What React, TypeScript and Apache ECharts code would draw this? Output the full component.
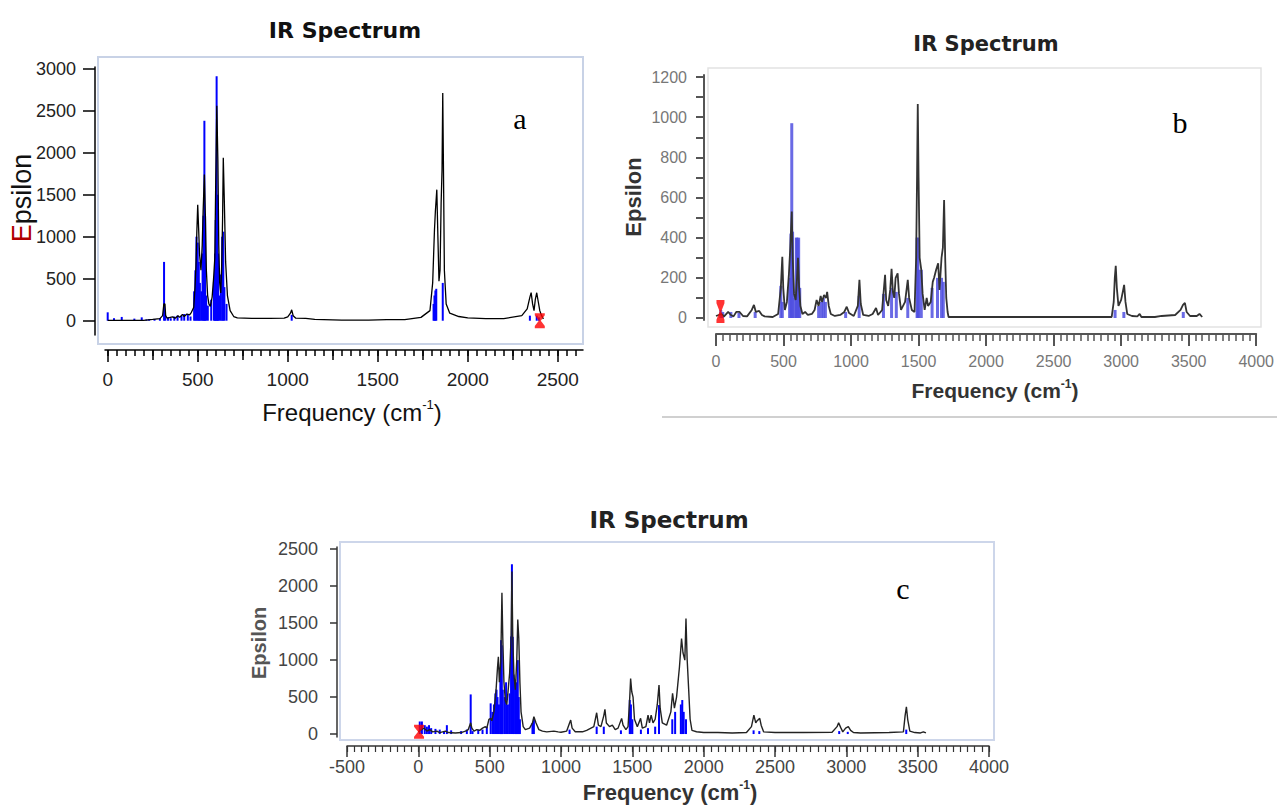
import React, { useEffect, useRef } from "react";
import * as echarts from "echarts";

// ---------- data: chart a ----------
const A_CURVE: [number, number][] = [
  [0, 5], [200, 5], [250, 15], [290, 25], [305, 60], [312, 200], [318, 200], [322, 60], [330, 30], [360, 45], [375, 30],
  [390, 60], [400, 40], [415, 75], [425, 50], [440, 80], [455, 70], [465, 100], [478, 160], [485, 400], [490, 650],
  [495, 1050], [500, 1380], [505, 1100], [510, 800], [518, 600], [525, 900], [530, 1300], [537, 1740], [543, 1200],
  [548, 600], [555, 300], [562, 200], [570, 170], [580, 280], [588, 500], [595, 750], [600, 1650], [606, 2560],
  [612, 1900], [617, 900], [622, 450], [628, 330], [633, 650], [638, 1200], [642, 1940], [648, 1400], [655, 700],
  [665, 300], [680, 120], [700, 50], [720, 35], [800, 28], [900, 28], [980, 30], [1000, 45], [1015, 90], [1022, 130],
  [1030, 60], [1045, 30], [1100, 28], [1150, 15], [1300, 8], [1450, 8], [1550, 12], [1650, 12], [1740, 40],
  [1790, 120], [1805, 450], [1815, 1080], [1820, 1300], [1828, 1560], [1834, 1000], [1840, 470], [1846, 600],
  [1852, 1400], [1857, 1790], [1861, 2710], [1865, 1800], [1870, 600], [1880, 200], [1900, 90], [1950, 50],
  [2000, 35], [2100, 25], [2200, 25], [2300, 60], [2330, 140], [2345, 280], [2352, 335], [2360, 200], [2368, 120],
  [2375, 250], [2383, 333], [2392, 220], [2400, 120], [2410, 60], [2420, 20],
];
const A_STICKS: [number, number][] = [
  [0, 100], [35, 30], [78, 45], [148, 25], [189, 40], [215, 15], [230, 20], [260, 20], [290, 30], [313, 700],
  [320, 60], [335, 40], [350, 30], [370, 50], [388, 60], [410, 60], [425, 80], [445, 80], [460, 50], [480, 350],
  [487, 600], [493, 1000], [500, 930], [506, 700], [512, 450], [520, 350], [527, 800], [532, 1250], [537, 2380],
  [541, 1250], [547, 300], [556, 180], [575, 250], [590, 460], [596, 800], [600, 1200], [605, 2910], [609, 1500],
  [613, 800], [620, 300], [628, 550], [636, 1000], [642, 1060], [648, 400], [660, 200], [1022, 70], [1810, 200],
  [1815, 300], [1820, 360], [1825, 380], [1861, 450], [2345, 60], [2383, 60], [2395, 40],
];
const A_MARKER: [number, number][] = [[2400, 0]];
const A_X_LABELS = [0, 500, 1000, 1500, 2000, 2500];
const A_X_MID = [250, 750, 1250, 1750, 2250];
const A_Y_LABELS = [0, 500, 1000, 1500, 2000, 2500, 3000];

// ---------- data: chart b ----------
const B_CURVE: [number, number][] = [
  [0, 10], [40, 20], [60, 8], [90, 30], [110, 15], [130, 8], [150, 30], [175, 30], [200, 10], [230, 8], [265, 40],
  [281, 65], [295, 30], [320, 35], [340, 15], [360, 8], [420, 5], [460, 20], [480, 150], [491, 305], [498, 150],
  [510, 40], [525, 80], [540, 220], [550, 350], [561, 530], [568, 300], [578, 120], [590, 90], [600, 200], [607, 300],
  [615, 160], [625, 60], [640, 20], [660, 30], [680, 15], [710, 20], [730, 40], [745, 90], [760, 60], [775, 110],
  [785, 80], [800, 115], [815, 100], [823, 130], [835, 60], [850, 20], [880, 10], [920, 15], [950, 30], [968, 56],
  [985, 25], [1020, 10], [1050, 60], [1062, 190], [1072, 70], [1090, 15], [1130, 10], [1160, 20], [1185, 50],
  [1200, 15], [1230, 40], [1245, 160], [1252, 215], [1260, 90], [1275, 60], [1290, 140], [1300, 245], [1310, 130],
  [1320, 100], [1330, 200], [1345, 222], [1355, 120], [1370, 40], [1400, 80], [1420, 190], [1430, 100], [1450, 40],
  [1470, 30], [1482, 300], [1489, 720], [1494, 1066], [1500, 700], [1508, 300], [1520, 240], [1530, 120], [1545, 40],
  [1560, 100], [1570, 60], [1590, 80], [1605, 180], [1615, 200], [1630, 240], [1645, 272], [1655, 140], [1670, 300],
  [1680, 350], [1689, 588], [1697, 300], [1705, 100], [1715, 30], [1722, 5], [2000, 5], [2500, 5], [2930, 5],
  [2945, 80], [2953, 200], [2960, 260], [2968, 150], [2980, 60], [3000, 90], [3015, 140], [3022, 165], [3032, 80],
  [3045, 20], [3080, 10], [3120, 8], [3137, 20], [3150, 5], [3250, 5], [3300, 10], [3400, 15], [3440, 40],
  [3458, 65], [3472, 75], [3485, 30], [3510, 10], [3560, 10], [3580, 20], [3600, 5],
];
const B_STICKS: [number, number][] = [
  [35, 40], [50, 30], [110, 30], [170, 25], [290, 30], [480, 160], [491, 80], [545, 200], [555, 420], [561, 970],
  [567, 430], [582, 100], [595, 400], [600, 400], [605, 390], [612, 400], [620, 150], [760, 60], [780, 80],
  [795, 100], [810, 80], [960, 30], [1060, 110], [1240, 120], [1300, 150], [1335, 130], [1420, 100], [1489, 400],
  [1495, 400], [1500, 240], [1520, 240], [1600, 150], [1640, 200], [1670, 200], [1683, 180], [2955, 40],
  [3020, 30], [3460, 30],
];
const B_MARKER: [number, number][] = [[33, 32]];
const B_X_LABELS = [0, 500, 1000, 1500, 2000, 2500, 3000, 3500, 4000];
const B_Y_LABELS = [0, 200, 400, 600, 800, 1000, 1200];
const B_Y_TICKS = [0, 100, 200, 300, 400, 500, 600, 700, 800, 900, 1000, 1100, 1200];

// ---------- data: chart c ----------
const C_CURVE: [number, number][] = [
  [0, 30], [20, 60], [40, 80], [60, 40], [80, 60], [100, 30], [130, 40], [150, 20], [190, 40], [210, 20], [260, 15],
  [300, 20], [330, 40], [350, 60], [367, 152], [375, 80], [390, 40], [410, 60], [430, 50], [450, 80], [470, 100],
  [480, 80], [495, 200], [507, 212], [515, 180], [530, 300], [545, 600], [555, 900], [561, 1045], [568, 700],
  [578, 1000], [586, 1910], [592, 1300], [600, 700], [610, 450], [620, 400], [630, 600], [640, 824], [650, 1300],
  [656, 2200], [662, 1300], [670, 800], [680, 600], [690, 1000], [697, 1550], [704, 1300], [712, 700], [720, 300],
  [735, 100], [750, 60], [780, 80], [800, 150], [810, 234], [825, 150], [845, 60], [870, 40], [900, 30], [950, 40],
  [980, 30], [1000, 25], [1040, 40], [1060, 150], [1068, 189], [1078, 80], [1100, 30], [1150, 30], [1180, 50],
  [1230, 100], [1250, 288], [1262, 120], [1280, 100], [1300, 250], [1308, 334], [1318, 150], [1340, 100], [1360, 120],
  [1380, 60], [1400, 80], [1425, 212], [1435, 120], [1455, 60], [1470, 100], [1482, 500], [1488, 752], [1496, 572],
  [1505, 500], [1515, 200], [1535, 100], [1558, 212], [1570, 80], [1595, 100], [1610, 257], [1620, 150], [1632, 257],
  [1645, 150], [1660, 200], [1675, 400], [1687, 662], [1695, 350], [1710, 150], [1740, 120], [1770, 300], [1782, 550],
  [1795, 350], [1810, 500], [1830, 900], [1845, 1293], [1855, 1100], [1868, 1000], [1876, 1563], [1884, 1023],
  [1895, 600], [1905, 200], [1918, 50], [1950, 31], [2000, 20], [2100, 20], [2200, 15], [2300, 20], [2335, 100],
  [2352, 257], [2365, 150], [2375, 180], [2393, 212], [2403, 120], [2420, 30], [2500, 20], [2700, 20], [2900, 25],
  [2935, 100], [2946, 153], [2960, 90], [2975, 30], [2995, 80], [3014, 99], [3030, 50], [3050, 20], [3100, 15],
  [3300, 20], [3400, 30], [3412, 250], [3421, 369], [3430, 200], [3445, 40], [3480, 20], [3520, 15], [3540, 30],
  [3558, 15],
];
const C_STICKS: [number, number][] = [
  [10, 170], [25, 170], [45, 120], [60, 100], [75, 120], [90, 80], [120, 70], [150, 60], [180, 40], [200, 120],
  [230, 50], [300, 40], [340, 60], [367, 536], [380, 40], [420, 60], [450, 60], [480, 100], [507, 415], [520, 300],
  [530, 400], [540, 550], [548, 600], [555, 500], [565, 400], [575, 900], [580, 1270], [585, 1200], [592, 600],
  [605, 500], [615, 700], [628, 400], [640, 550], [650, 1320], [656, 2297], [662, 1315], [668, 800], [678, 700],
  [685, 400], [690, 700], [697, 1000], [704, 500], [712, 200], [800, 150], [810, 200], [1060, 60], [1250, 100],
  [1300, 100], [1420, 50], [1482, 460], [1490, 400], [1500, 200], [1560, 60], [1610, 80], [1660, 100], [1687, 392],
  [1780, 200], [1800, 300], [1840, 400], [1850, 460], [1860, 300], [1876, 200], [2350, 50], [2390, 40], [2950, 40],
  [3010, 30], [3420, 60],
];
const C_MARKER: [number, number][] = [[5, 30]];
const C_X_LABELS = [-500, 0, 500, 1000, 1500, 2000, 2500, 3000, 3500, 4000];
const C_Y_LABELS = [0, 500, 1000, 1500, 2000, 2500];

const steps = (a: number, b: number, s: number) => {
  const out: number[] = [];
  for (let v = a; v <= b; v += s) out.push(v);
  return out;
};

const SANS = "'Liberation Sans', Arial, sans-serif";
const TITLE_FONT = "'DejaVu Sans', 'Liberation Sans', sans-serif";
const SERIF = "'Liberation Serif', 'Times New Roman', serif";
const HOURGLASS = "path://M0,0L10,0L10,2L6,7L10,12L10,14L0,14L0,12L4,7L0,2Z";
const plain = (v: number) => String(v);

function mainX(grid: number, min: number, max: number, offset: number, labels: number[], color: string,
  lw: number, tickLen: number, fontSize: number, labelColor: string, margin: number) {
  return {
    type: "value", gridIndex: grid, min, max, offset, position: "bottom",
    axisLine: { show: true, onZero: false, lineStyle: { color, width: lw } },
    axisTick: { show: true, length: tickLen, customValues: labels, lineStyle: { color, width: lw } },
    axisLabel: { show: true, customValues: labels, margin, fontSize, color: labelColor, fontFamily: SANS, formatter: plain },
    splitLine: { show: false },
  };
}
function tickX(grid: number, min: number, max: number, offset: number, ticks: number[], color: string,
  lw: number, tickLen: number) {
  return {
    type: "value", gridIndex: grid, min, max, offset, position: "bottom",
    axisLine: { show: false, onZero: false },
    axisTick: { show: true, length: tickLen, customValues: ticks, lineStyle: { color, width: lw } },
    axisLabel: { show: false },
    splitLine: { show: false },
  };
}
function mainY(grid: number, min: number, max: number, offset: number, ticks: number[], labels: number[],
  color: string, lw: number, tickLen: number, fontSize: number, labelColor: string, margin: number) {
  return {
    type: "value", gridIndex: grid, min, max, offset, position: "left",
    axisLine: { show: true, onZero: false, lineStyle: { color, width: lw } },
    axisTick: { show: true, length: tickLen, customValues: ticks, lineStyle: { color, width: lw } },
    axisLabel: { show: true, customValues: labels, margin, fontSize, color: labelColor, fontFamily: SANS, formatter: plain },
    splitLine: { show: false },
  };
}

function freqText(x: number, y: number, size: number, weight: string, color: string) {
  return {
    type: "text", x, y, z: 10,
    style: {
      text: "{n|Frequency (cm}{s|-1}{n|)}",
      align: "center", verticalAlign: "middle",
      rich: {
        n: { fontSize: size, fontWeight: weight, fontFamily: SANS, fill: color, lineHeight: size + 4 },
        s: { fontSize: Math.round(size * 0.55), fontWeight: weight, fontFamily: SANS, fill: color, verticalAlign: "top" },
      },
    },
  };
}

export default function App() {
  const ref = useRef<HTMLDivElement>(null);
  useEffect(() => {
    document.body.style.margin = "0";
    if (!ref.current) return;
    const chart = echarts.init(ref.current, null, { renderer: "svg" });
    const option: any = {
      animation: false,
      backgroundColor: "#ffffff",
      grid: [
        { left: 105, top: 67, width: 478, height: 268 },
        { left: 716, top: 75, width: 541, height: 245 },
        { left: 347, top: 547, width: 642, height: 190 },
      ],
      xAxis: [
        mainX(0, -15, 2640, 15, A_X_LABELS, "#000", 1.5, 12, 19, "#222", 20),
        tickX(0, -15, 2640, 15, A_X_MID, "#000", 1.5, 10),
        tickX(0, -15, 2640, 15, steps(0, 2600, 50), "#000", 1.5, 6),
        mainX(1, 0, 4000, 14, B_X_LABELS, "#555", 2, 12, 16, "#777", 19),
        tickX(1, 0, 4000, 14, steps(0, 4000, 50), "#555", 1.5, 7),
        mainX(2, -500, 4000, 9, C_X_LABELS, "#333", 1.5, 11, 18, "#444", 12),
        tickX(2, -500, 4000, 9, steps(-500, 4000, 50), "#333", 1.2, 6),
      ],
      yAxis: [
        mainY(0, -170, 3020, 10, A_Y_LABELS, A_Y_LABELS, "#000", 1.5, 12, 18, "#222", 19),
        mainY(1, -10, 1210, 12, B_Y_TICKS, B_Y_LABELS, "#555", 2, 8, 16, "#777", 17),
        mainY(2, -40, 2530, 10, C_Y_LABELS, C_Y_LABELS, "#333", 1.5, 7, 18, "#444", 19),
      ],
      series: [
        { type: "bar", xAxisIndex: 0, yAxisIndex: 0, data: A_STICKS, barWidth: 2, itemStyle: { color: "#0000ff" }, z: 2 },
        { type: "line", xAxisIndex: 0, yAxisIndex: 0, data: A_CURVE, symbol: "none", lineStyle: { color: "#000", width: 1.3 }, z: 3 },
        { type: "scatter", xAxisIndex: 0, yAxisIndex: 0, data: A_MARKER, symbol: HOURGLASS, symbolSize: [10, 15], itemStyle: { color: "#ff0000" }, z: 4 },
        { type: "bar", xAxisIndex: 3, yAxisIndex: 1, data: B_STICKS, barWidth: 3, itemStyle: { color: "#5050e0", opacity: 0.85 }, z: 2 },
        { type: "line", xAxisIndex: 3, yAxisIndex: 1, data: B_CURVE, symbol: "none", lineStyle: { color: "#333", width: 1.8 }, z: 3 },
        { type: "scatter", xAxisIndex: 3, yAxisIndex: 1, data: B_MARKER, symbol: HOURGLASS, symbolSize: [8, 23], itemStyle: { color: "#ff0000" }, z: 4 },
        { type: "bar", xAxisIndex: 5, yAxisIndex: 2, data: C_STICKS, barWidth: 2, itemStyle: { color: "#0000ff" }, z: 2 },
        { type: "line", xAxisIndex: 5, yAxisIndex: 2, data: C_CURVE, symbol: "none", lineStyle: { color: "#222", width: 1.4 }, z: 3 },
        { type: "scatter", xAxisIndex: 5, yAxisIndex: 2, data: C_MARKER, symbol: HOURGLASS, symbolSize: [10, 14], itemStyle: { color: "#ff0000" }, z: 4 },
      ],
      graphic: [
        // frames
        { type: "rect", z: 0, shape: { x: 98, y: 57, width: 485, height: 287 }, style: { fill: "none", stroke: "#c8d2e6", lineWidth: 2 } },
        { type: "rect", z: 0, shape: { x: 708, y: 68, width: 553, height: 259 }, style: { fill: "none", stroke: "#e2e2e2", lineWidth: 1.5 } },
        { type: "rect", z: 0, shape: { x: 340, y: 542, width: 654, height: 198 }, style: { fill: "none", stroke: "#cdd6ea", lineWidth: 2 } },
        { type: "line", z: 0, shape: { x1: 662, y1: 417, x2: 1277, y2: 417 }, style: { stroke: "#d0d0d0", lineWidth: 2 } },
        // titles
        { type: "text", x: 345, y: 30, style: { text: "IR Spectrum", fontSize: 22, fontWeight: "bold", fontFamily: TITLE_FONT, fill: "#111", align: "center", verticalAlign: "middle" } },
        { type: "text", x: 986, y: 44, style: { text: "IR Spectrum", fontSize: 21, fontWeight: "bold", fontFamily: TITLE_FONT, fill: "#222", align: "center", verticalAlign: "middle" } },
        { type: "text", x: 669, y: 520, style: { text: "IR Spectrum", fontSize: 23, fontWeight: "bold", fontFamily: TITLE_FONT, fill: "#222", align: "center", verticalAlign: "middle" } },
        // Epsilon labels
        {
          type: "text", x: 22, y: 198, rotation: Math.PI / 2,
          style: {
            text: "{r|E}{n|psilon}", align: "center", verticalAlign: "middle",
            rich: {
              r: { fontSize: 27, fontFamily: SANS, fill: "#b00000" },
              n: { fontSize: 27, fontFamily: SANS, fill: "#111" },
            },
          },
        },
        { type: "text", x: 633, y: 197, rotation: Math.PI / 2, style: { text: "Epsilon", fontSize: 22, fontWeight: "bold", fontFamily: SANS, fill: "#333", align: "center", verticalAlign: "middle" } },
        { type: "text", x: 259, y: 643, rotation: Math.PI / 2, style: { text: "Epsilon", fontSize: 20, fontWeight: "bold", fontFamily: SANS, fill: "#555", align: "center", verticalAlign: "middle" } },
        // frequency labels
        freqText(352, 412, 24, "normal", "#111"),
        freqText(995, 390, 21, "bold", "#333"),
        freqText(670, 792, 22, "bold", "#333"),
        // panel letters
        { type: "text", x: 520, y: 118, style: { text: "a", fontSize: 30, fontFamily: SERIF, fill: "#000", align: "center", verticalAlign: "middle" } },
        { type: "text", x: 1180, y: 122, style: { text: "b", fontSize: 30, fontFamily: SERIF, fill: "#000", align: "center", verticalAlign: "middle" } },
        { type: "text", x: 903, y: 588, style: { text: "c", fontSize: 30, fontFamily: SERIF, fill: "#000", align: "center", verticalAlign: "middle" } },
      ],
    };
    chart.setOption(option);
    return () => chart.dispose();
  }, []);
  return <div ref={ref} style={{ width: 1277, height: 805 }} />;
}
